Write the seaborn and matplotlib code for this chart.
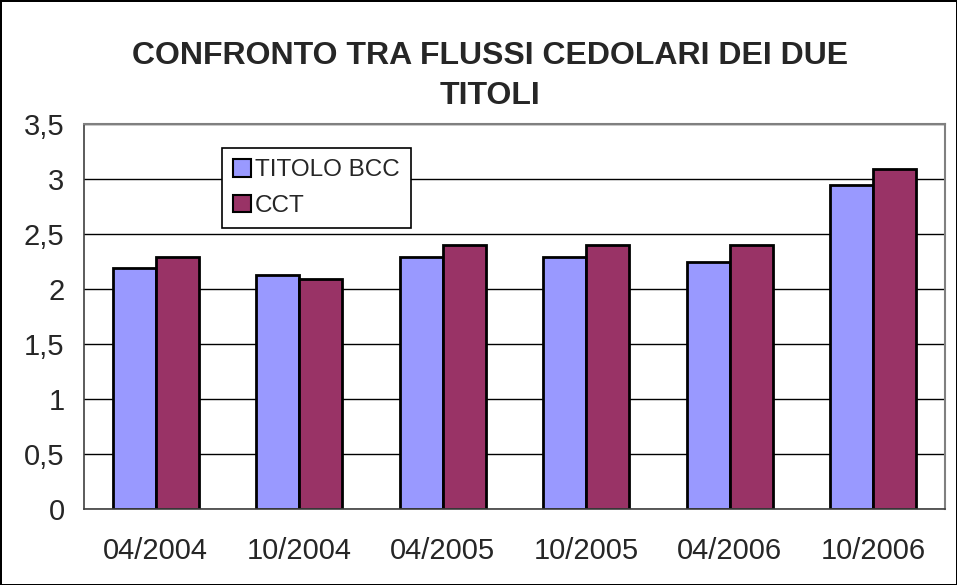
import matplotlib
matplotlib.use("Agg")
import matplotlib.pyplot as plt
import seaborn as sns
import pandas as pd
from matplotlib.patches import Patch
from matplotlib.ticker import FuncFormatter

categories = ["04/2004", "10/2004", "04/2005", "10/2005", "04/2006", "10/2006"]
bcc = [2.19, 2.13, 2.29, 2.29, 2.25, 2.95]
cct = [2.29, 2.09, 2.40, 2.40, 2.40, 3.09]
series_names = ["TITOLO BCC", "CCT"]
colors = ["#9999FF", "#993366"]
title = "CONFRONTO TRA FLUSSI CEDOLARI DEI DUE\nTITOLI"

df = pd.DataFrame({
    "cat": categories * 2,
    "val": bcc + cct,
    "serie": [series_names[0]] * len(categories) + [series_names[1]] * len(categories),
})

sns.set_style("white")
plt.rcParams["font.family"] = ["Liberation Sans", "DejaVu Sans"]

W, H = 957, 585
fig = plt.figure(figsize=(W / 100, H / 100), dpi=100)
fig.patch.set_facecolor("white")
fig.patch.set_edgecolor("black")
fig.patch.set_linewidth(2)

L, R, T, B = 84, 945, 124, 509
ax = fig.add_axes([L / W, 1 - B / H, (R - L) / W, (B - T) / H])

sns.barplot(data=df, x="cat", y="val", hue="serie", order=categories,
            hue_order=series_names, palette=colors, width=0.6,
            edgecolor="black", linewidth=2, saturation=1, ax=ax, legend=False)

ax.set_ylim(0, 3.5)
ax.set_xlim(-0.5, len(categories) - 0.5)
ax.set_yticks([0, 0.5, 1, 1.5, 2, 2.5, 3, 3.5])
ax.yaxis.set_major_formatter(FuncFormatter(lambda v, p: ("%g" % v).replace(".", ",")))
ax.set_xlabel("")
ax.set_ylabel("")
ax.set_axisbelow(True)
ax.yaxis.grid(True, color="black", linewidth=1)
ax.xaxis.grid(False)

ax.set_xticks(range(len(categories)))
ax.set_xticklabels(categories)
ax.set_xticks([i - 0.5 for i in range(len(categories) + 1)], minor=True)
ax.tick_params(axis="x", which="major", length=0, labelsize=21, pad=20)
ax.tick_params(axis="x", which="minor", length=8, width=1, color="black", direction="out")
ax.tick_params(axis="y", which="major", length=8, width=1, color="black", labelsize=21, pad=6)

for s in ["top", "right"]:
    ax.spines[s].set_color("#808080")
    ax.spines[s].set_linewidth(1.5)
for s in ["left", "bottom"]:
    ax.spines[s].set_color("#404040")
    ax.spines[s].set_linewidth(1.2)

handles = [Patch(facecolor=c, edgecolor="black", linewidth=1.5) for c in colors]
leg = ax.legend(handles, series_names, loc="upper left",
                bbox_to_anchor=((222 - L) / (R - L), (B - 148) / (B - T)),
                borderaxespad=0, fontsize=17.5, frameon=True, fancybox=False,
                handlelength=0.75, handleheight=0.75, handletextpad=0.15,
                labelspacing=0.55, borderpad=0.45)
leg.get_frame().set_edgecolor("black")
leg.get_frame().set_linewidth(1.2)
leg.get_frame().set_alpha(1)

fig.text(490 / W, 1 - 76 / H, title, ha="center", va="center",
         fontsize=23, fontweight="bold", linespacing=1.45)

fig.savefig("out.png", dpi=100)
